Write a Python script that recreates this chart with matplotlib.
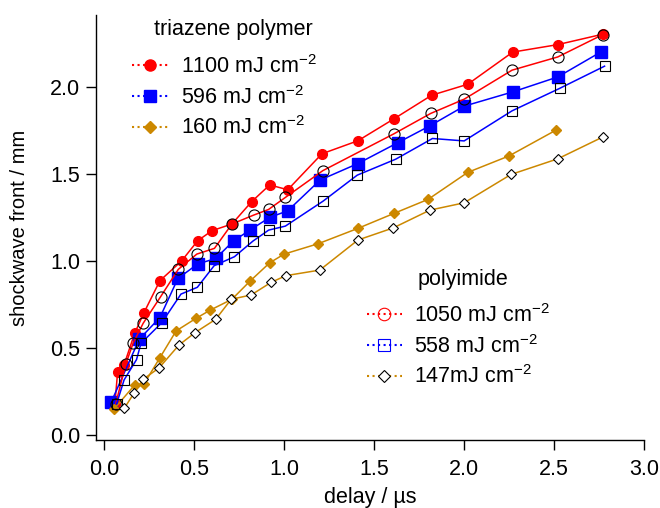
import matplotlib
matplotlib.use('Agg')
import matplotlib.pyplot as plt
import matplotlib.lines as mlines
import numpy as np

plt.rcParams['font.family'] = ['Liberation Sans', 'DejaVu Sans']
plt.rcParams['mathtext.default'] = 'regular'
plt.rcParams['font.size'] = 15.5

red = '#ff0000'
blue = '#0000ff'
gold = '#cc8800'

# triazene polymer
t1100_x = [0.06, 0.075, 0.11, 0.17, 0.22, 0.31, 0.43, 0.52, 0.60, 0.71, 0.82, 0.92, 1.02, 1.21, 1.41, 1.61, 1.82, 2.02, 2.27, 2.52, 2.77]
t1100_y = [0.18, 0.36, 0.40, 0.585, 0.70, 0.887, 1.0, 1.117, 1.175, 1.213, 1.342, 1.438, 1.41, 1.617, 1.692, 1.818, 1.954, 2.017, 2.202, 2.245, 2.305]

t596_x = [0.04, 0.195, 0.31, 0.41, 0.52, 0.62, 0.72, 0.81, 0.92, 1.02, 1.2, 1.41, 1.63, 1.81, 2.0, 2.27, 2.52, 2.76]
t596_y = [0.19, 0.55, 0.675, 0.90, 0.983, 1.015, 1.117, 1.178, 1.251, 1.289, 1.466, 1.561, 1.68, 1.778, 1.891, 1.973, 2.059, 2.203]

t160_x = [0.056, 0.17, 0.22, 0.31, 0.40, 0.51, 0.59, 0.71, 0.81, 0.92, 1.0, 1.19, 1.41, 1.61, 1.8, 2.02, 2.25, 2.51]
t160_y = [0.15, 0.287, 0.29, 0.444, 0.598, 0.67, 0.718, 0.78, 0.884, 0.99, 1.04, 1.1, 1.188, 1.274, 1.355, 1.51, 1.605, 1.753]

# polyimide
p1050_x = [0.065, 0.12, 0.162, 0.217, 0.314, 0.412, 0.515, 0.613, 0.71, 0.83, 0.914, 1.007, 1.215, 1.61, 1.814, 2.0, 2.266, 2.52, 2.771]
p1050_y = [0.18, 0.406, 0.53, 0.642, 0.795, 0.952, 1.04, 1.073, 1.213, 1.264, 1.297, 1.366, 1.52, 1.732, 1.849, 1.931, 2.098, 2.174, 2.303]

p558_x = [0.07, 0.111, 0.18, 0.205, 0.32, 0.427, 0.518, 0.611, 0.724, 0.827, 0.914, 1.007, 1.217, 1.406, 1.62, 1.824, 2.0, 2.266, 2.53, 2.78]
p558_y = [0.18, 0.316, 0.433, 0.527, 0.645, 0.81, 0.849, 0.973, 1.025, 1.115, 1.178, 1.201, 1.345, 1.494, 1.586, 1.705, 1.691, 1.864, 1.993, 2.121]

p147_x = [0.112, 0.168, 0.217, 0.305, 0.416, 0.505, 0.62, 0.706, 0.817, 0.927, 1.01, 1.198, 1.41, 1.607, 1.81, 2.0, 2.26, 2.52, 2.771]
p147_y = [0.153, 0.243, 0.32, 0.385, 0.517, 0.588, 0.665, 0.78, 0.805, 0.877, 0.916, 0.948, 1.121, 1.191, 1.293, 1.335, 1.498, 1.588, 1.714]

fig = plt.figure(figsize=(6.6, 5.08), dpi=100)
ax = fig.add_axes([0.146, 0.134, 0.830, 0.836])

lw = 1.1
# triazene (filled markers)
ax.plot(t1100_x, t1100_y, color=red, lw=lw, marker='o', ms=7, mfc=red, mec=red, zorder=3)
ax.plot(t596_x, t596_y, color=blue, lw=lw, marker='s', ms=8.5, mfc=blue, mec=blue, zorder=3)
ax.plot(t160_x, t160_y, color=gold, lw=lw, marker='D', ms=5.2, mfc=gold, mec=gold, zorder=3)
# polyimide (open black markers)
ax.plot(p1050_x, p1050_y, color=red, lw=lw, marker='o', ms=8, mfc='none', mec='black', mew=0.8, zorder=4)
ax.plot(p558_x, p558_y, color=blue, lw=lw, marker='s', ms=7.8, mfc='none', mec='black', mew=0.8, zorder=4)
ax.plot(p147_x, p147_y, color=gold, lw=lw, marker='D', ms=4.8, mfc='white', mec='black', mew=0.8, zorder=4)

ax.set_xlim(-0.043, 3.0)
ax.set_ylim(-0.029, 2.414)
ax.set_xticks(np.arange(0, 3.01, 0.5))
ax.set_yticks(np.arange(0, 2.01, 0.5))
ax.xaxis.set_major_formatter(matplotlib.ticker.FormatStrFormatter('%.1f'))
ax.yaxis.set_major_formatter(matplotlib.ticker.FormatStrFormatter('%.1f'))
ax.spines['top'].set_visible(False)
ax.spines['right'].set_visible(False)
for s in ['left', 'bottom']:
    ax.spines[s].set_linewidth(1.0)
ax.tick_params(direction='out', length=7.5, width=1.0, labelsize=15.5)
ax.tick_params(axis='x', pad=6)
ax.tick_params(axis='y', pad=4)

ax.set_xlabel('delay / µs', fontsize=15.5, labelpad=5)
ax.set_ylabel('shockwave front / mm', fontsize=14.5, labelpad=15)

# legends (titles drawn as separate text so the gap can match)
tri_handles = [
    mlines.Line2D([], [], color=red, ls=':', lw=1.5, marker='o', ms=8, mfc=red, mec=red),
    mlines.Line2D([], [], color=blue, ls=':', lw=1.5, marker='s', ms=9, mfc=blue, mec=blue),
    mlines.Line2D([], [], color=gold, ls=':', lw=1.5, marker='D', ms=6.5, mfc=gold, mec=gold),
]
tri_labels = ['1100 mJ cm$^{-2}$', '596 mJ cm$^{-2}$', '160 mJ cm$^{-2}$']
leg1 = ax.legend(tri_handles, tri_labels, loc='upper left',
                 bbox_to_anchor=(131.7 / 660, 1 - 55 / 508), bbox_transform=fig.transFigure,
                 frameon=False, fontsize=15.5, borderpad=0, borderaxespad=0,
                 handlelength=1.72, handletextpad=0.56, labelspacing=0.36)
ax.add_artist(leg1)
fig.text(233 / 660, 1 - 30 / 508, 'triazene polymer', ha='center', va='center', fontsize=15.5)

poly_handles = [
    mlines.Line2D([], [], color=red, ls=':', lw=1.5, marker='o', ms=9, mfc='none', mec=red, mew=0.8),
    mlines.Line2D([], [], color=blue, ls=':', lw=1.5, marker='s', ms=9, mfc='none', mec=blue, mew=0.8),
    mlines.Line2D([], [], color=gold, ls=':', lw=1.5, marker='D', ms=6, mfc='white', mec='black', mew=0.8),
]
poly_labels = ['1050 mJ cm$^{-2}$', '558 mJ cm$^{-2}$', '147mJ cm$^{-2}$']
leg2 = ax.legend(poly_handles, poly_labels, loc='upper left',
                 bbox_to_anchor=(366.7 / 660, 1 - 304 / 508), bbox_transform=fig.transFigure,
                 frameon=False, fontsize=15.5, borderpad=0, borderaxespad=0,
                 handlelength=1.63, handletextpad=0.56, labelspacing=0.36)
fig.text(462.5 / 660, 1 - 279.3 / 508, 'polyimide', ha='center', va='center', fontsize=15.5)

fig.savefig('out.png', dpi=100)
